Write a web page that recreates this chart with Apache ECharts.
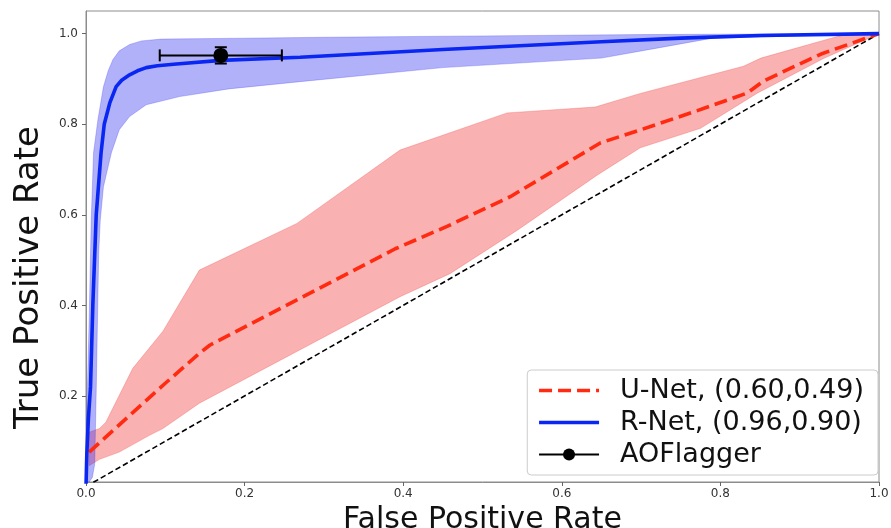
<!DOCTYPE html>
<html>
<head>
<meta charset="utf-8">
<script src="https://cdn.jsdelivr.net/npm/echarts@6/dist/echarts.min.js"></script>
<style>
  html, body { margin: 0; padding: 0; background: #fff; }
  #chart { width: 891px; height: 528px; }
</style>
</head>
<body>
<div id="chart"></div>
<script>
// Axis ticks
const xTicks = [0, 0.2, 0.4, 0.6, 0.8, 1.0];
const yTicks = [0.2, 0.4, 0.6, 0.8, 1.0];

const seriesNames = ['U-Net, (0.60,0.49)', 'R-Net, (0.96,0.90)', 'AOFlagger'];

// Chance diagonal
const chanceLine = [[0, 0], [1, 1]];

// U-Net ROC: mean curve and spread  [FPR, TPR]
const unetMean = [
  [0.004, 0.076], [0.06, 0.165], [0.10, 0.228], [0.143, 0.294], [0.156, 0.312],
  [0.39, 0.525], [0.456, 0.575], [0.535, 0.64], [0.649, 0.759], [0.70, 0.788],
  [0.771, 0.83], [0.834, 0.869], [0.855, 0.896], [0.927, 0.955], [1, 1]
];
const unetUpper = [
  [0.004, 0.12], [0.017, 0.128], [0.025, 0.142], [0.059, 0.261], [0.097, 0.343],
  [0.143, 0.478], [0.266, 0.581], [0.396, 0.743], [0.531, 0.825], [0.642, 0.838],
  [0.699, 0.868], [0.829, 0.928], [0.851, 0.946], [0.952, 0.996], [1, 1]
];
const unetLower = [
  [0.004, 0.046], [0.017, 0.06], [0.042, 0.076], [0.08, 0.113], [0.097, 0.128],
  [0.143, 0.184], [0.396, 0.419], [0.459, 0.47], [0.544, 0.566], [0.645, 0.688],
  [0.699, 0.748], [0.775, 0.791], [0.847, 0.869], [0.93, 0.945], [1, 1]
];

// R-Net ROC: mean curve and spread  [FPR, TPR]
const rnetMean = [
  [0, 0], [0.001, 0.07], [0.003, 0.15], [0.0057, 0.22], [0.0086, 0.40],
  [0.0129, 0.60], [0.019, 0.737], [0.023, 0.80], [0.030, 0.847], [0.038, 0.883],
  [0.045, 0.897], [0.055, 0.909], [0.065, 0.918], [0.076, 0.925], [0.09, 0.929],
  [0.114, 0.933], [0.17, 0.941], [0.27, 0.948], [0.45, 0.965], [0.65, 0.982],
  [0.75, 0.99], [0.85, 0.996], [1, 1]
];
const rnetUpper = [
  [0, 0], [0.0003, 0.1], [0.0015, 0.2], [0.004, 0.37], [0.0066, 0.588],
  [0.0095, 0.737], [0.015, 0.81], [0.022, 0.883], [0.028, 0.918], [0.034, 0.943],
  [0.042, 0.962], [0.055, 0.976], [0.07, 0.984], [0.095, 0.988], [0.2, 0.99],
  [0.3, 0.992], [0.5, 0.995], [0.7, 0.998], [1, 1]
];
const rnetLower = [
  [0, 0], [0.008, 0.02], [0.011, 0.05], [0.013, 0.22], [0.0145, 0.37],
  [0.016, 0.515], [0.018, 0.588], [0.022, 0.662], [0.032, 0.737], [0.042, 0.788],
  [0.055, 0.817], [0.076, 0.843], [0.118, 0.861], [0.18, 0.878], [0.27, 0.894],
  [0.45, 0.925], [0.65, 0.946], [0.72, 0.968], [0.79, 0.99], [0.9, 0.995], [1, 1]
];

// AOFlagger operating point with its spread  [FPR, TPR], [±FPR, ±TPR]
const aoflaggerPoint = [0.17, 0.952];
const aoflaggerErr = [0.077, 0.018];

const FONT = 'DejaVu Sans';

// Shaded spread between an upper and a lower curve
function bandSeries(upper, lower, fill, stroke) {
  const ring = upper.concat(lower.slice().reverse());
  return {
    type: 'custom',
    silent: true,
    clip: true,
    z: 1,
    data: [[0, 0]],
    renderItem: (params, api) => ({
      type: 'polygon',
      shape: { points: ring.map(p => api.coord(p)) },
      style: { fill: fill, stroke: stroke, lineWidth: 1 }
    })
  };
}

const chart = echarts.init(document.getElementById('chart'), null, { renderer: 'canvas' });

chart.setOption({
  animation: false,
  backgroundColor: '#fff',
  grid: {
    left: 86, right: 12, top: 11, bottom: 46,
    show: true, borderColor: '#8c8c8c', borderWidth: 1,
    outerBoundsMode: 'none'
  },
  xAxis: {
    type: 'value', min: 0, max: 1, interval: 0.2,
    name: 'False Positive Rate',
    nameLocation: 'middle', nameGap: 18,
    nameTextStyle: { fontFamily: FONT, fontSize: 30, color: '#111' },
    axisLine: { lineStyle: { color: '#8c8c8c', width: 1 } },
    axisTick: { show: true, length: 4, lineStyle: { color: '#666' } },
    axisLabel: { fontFamily: FONT, fontSize: 12, color: '#333', margin: 6,
      formatter: v => v.toFixed(1) },
    splitLine: { show: false }
  },
  yAxis: {
    type: 'value', min: 0.01, max: 1.05,
    name: 'True Positive Rate',
    nameLocation: 'middle', nameGap: 40,
    nameTextStyle: { fontFamily: FONT, fontSize: 34, color: '#111', padding: [0, 62, 0, 0] },
    axisLine: { show: true, lineStyle: { color: '#8c8c8c', width: 1 } },
    axisTick: { show: true, length: 4, customValues: yTicks, lineStyle: { color: '#666' } },
    axisLabel: { fontFamily: FONT, fontSize: 12, color: '#333', margin: 8,
      customValues: yTicks, formatter: v => v.toFixed(1) },
    splitLine: { show: false }
  },
  legend: {
    data: [
      { name: seriesNames[0], itemStyle: { opacity: 0 }, lineStyle: { width: 3.6 } },
      { name: seriesNames[1], itemStyle: { opacity: 0 }, lineStyle: { width: 3.6 } },
      { name: seriesNames[2], lineStyle: { width: 1.8 } }
    ],
    orient: 'vertical',
    right: 13, bottom: 53,
    itemWidth: 60, itemHeight: 15, itemGap: 5,
    padding: [7, 14, 7, 10],
    borderColor: '#cccccc', borderWidth: 1, borderRadius: 4,
    backgroundColor: 'rgba(255,255,255,0.8)',
    textStyle: { fontFamily: FONT, fontSize: 27, color: '#111', padding: [0, 0, 0, 16] },
    selectedMode: false
  },
  series: [
    {
      type: 'line', data: chanceLine, symbol: 'none', silent: true, z: 2,
      lineStyle: { color: '#000', width: 1.6, type: [5.5, 3] }
    },
    bandSeries(unetUpper, unetLower, 'rgba(240,40,40,0.36)', 'rgba(240,40,40,0.25)'),
    bandSeries(rnetUpper, rnetLower, 'rgba(40,40,240,0.36)', 'rgba(40,40,240,0.25)'),
    {
      name: seriesNames[0], type: 'line', data: unetMean, symbol: 'none', z: 3,
      color: '#ff2a10',
      lineStyle: { color: '#ff2a10', width: 3.6, type: [13, 6] }
    },
    {
      name: seriesNames[1], type: 'line', data: rnetMean, symbol: 'none', z: 4,
      color: '#0a26f2',
      lineStyle: { color: '#0a26f2', width: 3.6 }
    },
    {
      type: 'custom', silent: true, z: 5,
      data: [[aoflaggerPoint[0], aoflaggerPoint[1], aoflaggerErr[0], aoflaggerErr[1]]],
      renderItem: (params, api) => {
        const x = api.value(0), y = api.value(1), ex = api.value(2), ey = api.value(3);
        const l = api.coord([x - ex, y]), r = api.coord([x + ex, y]);
        const t = api.coord([x, y + ey]), b = api.coord([x, y - ey]);
        const cap = 6;
        const st = { stroke: '#000', lineWidth: 2 };
        const seg = (x1, y1, x2, y2) => ({ type: 'line', shape: { x1, y1, x2, y2 }, style: st });
        return {
          type: 'group',
          children: [
            seg(l[0], l[1], r[0], r[1]),
            seg(l[0], l[1] - cap, l[0], l[1] + cap),
            seg(r[0], r[1] - cap, r[0], r[1] + cap),
            seg(t[0], t[1], b[0], b[1]),
            seg(t[0] - cap, t[1], t[0] + cap, t[1]),
            seg(b[0] - cap, b[1], b[0] + cap, b[1])
          ]
        };
      }
    },
    {
      name: seriesNames[2], type: 'line', data: [aoflaggerPoint], z: 6,
      symbol: 'circle', symbolSize: 15, color: '#000',
      itemStyle: { color: '#000' },
      lineStyle: { color: '#000', width: 1.6 }
    }
  ]
});
</script>
</body>
</html>
